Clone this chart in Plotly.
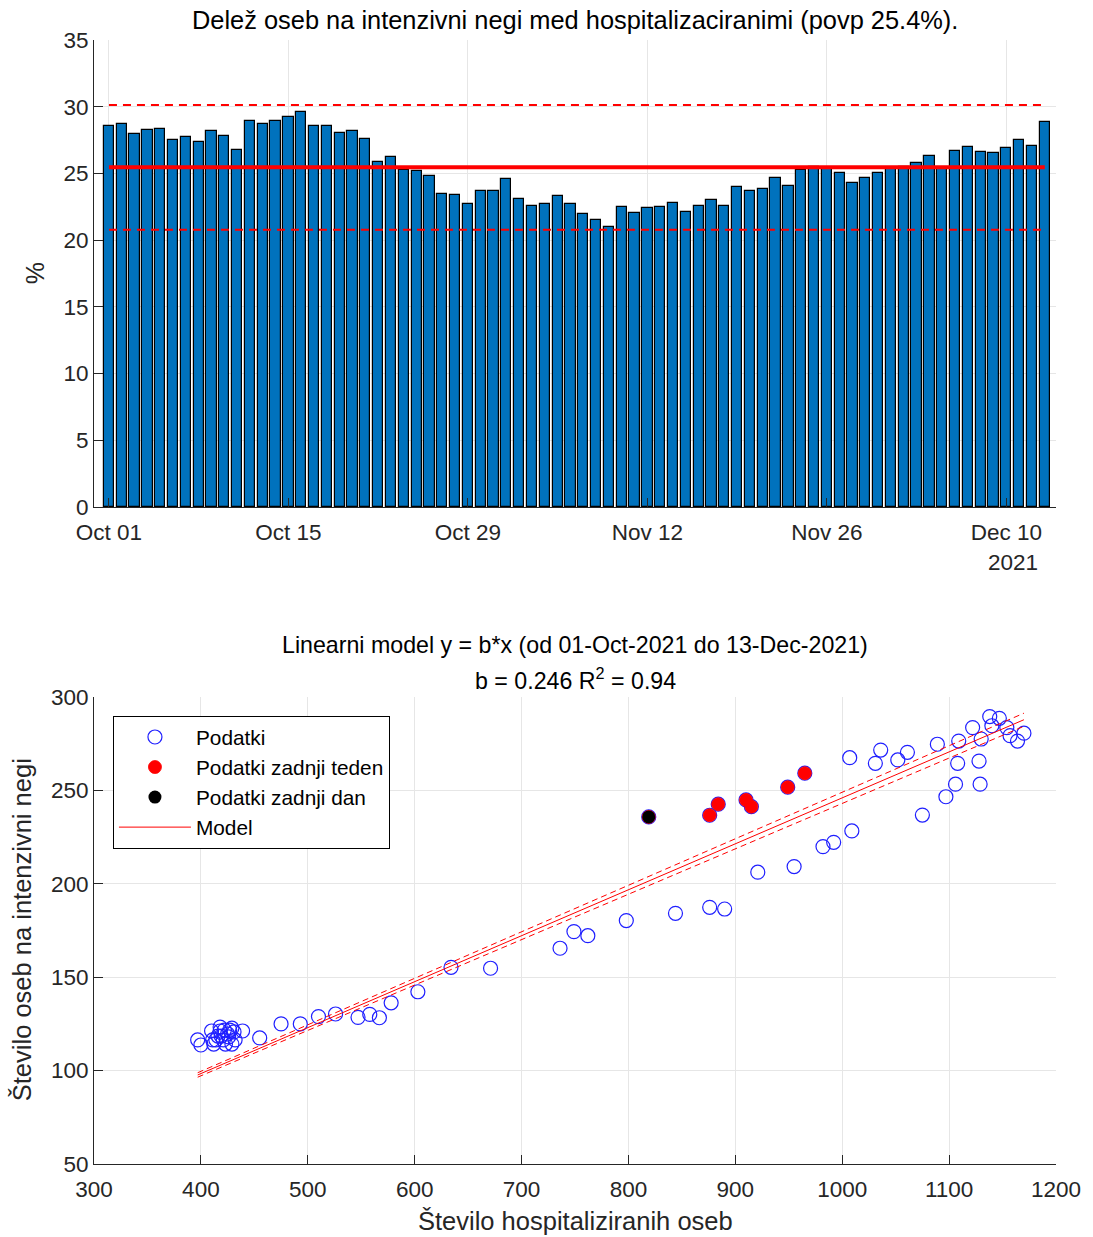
import plotly.graph_objects as go
import numpy as np
import pandas as pd

# ---------------- data ----------------
start_date = "2021-10-01"
end_date = "2021-12-13"

pct_icu = [28.58, 28.68, 27.93, 28.23, 28.33, 27.48, 27.73, 27.33, 28.16, 27.83,
           26.73, 28.90, 28.68, 28.90, 29.25, 29.58, 28.58, 28.58, 28.00, 28.16,
           27.58, 25.83, 26.25, 25.26, 25.18, 24.83, 23.48, 23.41, 22.68, 23.66,
           23.66, 24.58, 23.08, 22.58, 22.68, 23.33, 22.68, 21.93, 21.51, 21.01,
           22.51, 22.01, 22.43, 22.51, 22.76, 22.08, 22.58, 23.01, 22.58, 24.00,
           23.68, 23.83, 24.68, 24.08, 25.26, 25.50, 25.40, 25.01, 24.26, 24.68,
           25.01, 25.40, 25.50, 25.76, 26.33, 25.40, 26.66, 27.00, 26.58, 26.50,
           26.93, 27.50, 27.08, 28.83]

tick_dates = ["2021-10-01", "2021-10-15", "2021-10-29", "2021-11-12", "2021-11-26", "2021-12-10"]

hosp_prev = [397, 400, 410, 412, 414, 418, 419, 422, 425, 427, 429, 431, 439, 455,
             416, 421, 423, 418, 426, 432, 411, 429,
             475, 493, 510, 526, 547, 558, 567, 578, 603, 634, 671,
             736, 749, 762, 798, 844, 876, 890, 921, 955,
             982, 992, 1009, 1007, 1031, 1036, 1052, 1061, 1075, 1089, 1097, 1106,
             1108, 1109, 1122, 1130, 1128, 1129, 1138, 1147, 1140, 1154, 1157, 1164, 1170]
icu_prev = [116.4, 113.7, 121.2, 114.2, 116.4, 121.2, 118.5, 121.7, 119.6, 121.7, 114.2, 120.7, 121.2, 117.5,
            118.5, 116.4, 114.2, 123.3, 118.0, 116.4, 116.4, 122.7,
            125, 125, 128.9, 130.3, 128.5, 130.1, 128.3, 136.3, 142.2, 155.3, 154.8,
            165.5, 174.4, 172.2, 180.3, 184.2, 187.4, 186.5, 206.2, 209.2,
            219.9, 222.2, 228.3, 267.5, 264.5, 271.6, 266.3, 270.4, 236.8, 274.7, 246.6, 253.3,
            264.5, 276.4, 283.6, 277.5, 265.7, 253.3, 289.5, 288.6, 284.6, 283.6, 279.3, 276.4, 280.6]

hosp_week = [876, 884, 910, 915, 949, 965]
icu_week = [236.7, 242.6, 244.9, 241.3, 251.7, 259.2]

hosp_day = [819]
icu_day = [235.8]

b_fit = 0.246
b_low = 0.243
b_high = 0.249
r2 = 0.94

# ---------------- figure ----------------
dates = pd.date_range(start_date, end_date, freq="D")
pct = np.array(pct_icu)
mean_p = pct.mean()
std_p = pct.std(ddof=1)

AX = "#262626"
GRID = "#e6e6e6"
FONT = "Liberation Sans, Arial, sans-serif"

fig = go.Figure()

fig.add_trace(go.Bar(
    x=dates, y=pct, width=0.8 * 86400000,
    marker=dict(color="#0072BD", line=dict(color="black", width=1.2)),
    showlegend=False, xaxis="x", yaxis="y"))

for val, dash, w in [(mean_p, "solid", 4), (mean_p + 2 * std_p, "8px,6px", 2), (mean_p - 2 * std_p, "8px,6px", 2)]:
    fig.add_trace(go.Scatter(
        x=[dates[0], dates[-1]], y=[val, val], mode="lines",
        line=dict(color="#ff0000", width=w, dash=dash),
        showlegend=False, xaxis="x", yaxis="y"))

hosp_all = hosp_prev + hosp_week + hosp_day
icu_all = icu_prev + icu_week + icu_day
hosp_last = hosp_week + hosp_day
icu_last = icu_week + icu_day

fig.add_trace(go.Scatter(
    x=hosp_all, y=icu_all, mode="markers", name="Podatki",
    marker=dict(symbol="circle-open", size=14, color="#1f1fff", line=dict(width=1.2, color="#1f1fff")),
    xaxis="x2", yaxis="y2", legendgroup="a"))

xm = np.array([min(hosp_all), max(hosp_all)])
for bb in (b_low, b_high):
    fig.add_trace(go.Scatter(
        x=xm, y=bb * xm, mode="lines", line=dict(color="#ff0000", width=1, dash="6px,4px"),
        showlegend=False, xaxis="x2", yaxis="y2"))

fig.add_trace(go.Scatter(
    x=hosp_last, y=icu_last, mode="markers", name="Podatki zadnji teden",
    marker=dict(symbol="circle", size=13, color="#ff0000", line=dict(width=0.8, color="#ff0000")),
    xaxis="x2", yaxis="y2", legendgroup="b"))

fig.add_trace(go.Scatter(
    x=hosp_day, y=icu_day, mode="markers", name="Podatki zadnji dan",
    marker=dict(symbol="circle", size=13, color="#000000"),
    xaxis="x2", yaxis="y2", legendgroup="c"))

fig.add_trace(go.Scatter(
    x=xm, y=b_fit * xm, mode="lines", name="Model",
    line=dict(color="#ff0000", width=1),
    xaxis="x2", yaxis="y2", legendgroup="d"))

axis_common = dict(showline=True, linecolor=AX, linewidth=1, ticks="inside", ticklen=9,
                   tickcolor=AX, tickwidth=1, showgrid=True, gridcolor=GRID, gridwidth=1,
                   zeroline=False, mirror=False,
                   tickfont=dict(family=FONT, size=22.5, color=AX))

top_dom = [0.5845, 1.0]
bot_dom = [0.0, 0.4155]

fig.update_layout(
    width=1093, height=1237, autosize=False,
    margin=dict(l=94, r=34, t=40, b=73),
    paper_bgcolor="white", plot_bgcolor="white",
    font=dict(family=FONT, color=AX),
    bargap=0,
    xaxis=dict(type="date", domain=[0, 1], anchor="y",
               range=["2021-09-29 20:00", "2021-12-13 21:00"],
               tickvals=tick_dates, tickformat="%b %d", ticklabelstandoff=5, **axis_common),
    yaxis=dict(domain=top_dom, anchor="x", range=[0, 35], dtick=5, tick0=0, **axis_common),
    xaxis2=dict(domain=[0, 1], anchor="y2", range=[300, 1200], dtick=100, tick0=300,
                ticklabelstandoff=5, **axis_common),
    yaxis2=dict(domain=bot_dom, anchor="x2", range=[50, 300], dtick=50, tick0=50, **axis_common),
    legend=dict(x=0.0197, y=0.3986, xanchor="left", yanchor="top",
                bgcolor="white", bordercolor="black", borderwidth=1,
                font=dict(family=FONT, size=20.8, color="black"),
                itemwidth=72, traceorder="grouped", tracegroupgap=0),
)

def pnt(py):
    return (1164 - py) / 1124.0

def pxx(px):
    return (px - 94) / 965.0

ann = [
    dict(text="Delež oseb na intenzivni negi med hospitalizaciranimi (povp 25.4%).",
         x=0.5, y=pnt(20), size=25.4, angle=0, color="black"),
    dict(text="2021", x=pxx(1016), y=pnt(562), size=22.5, angle=0, color=AX),
    dict(text="%", x=pxx(35), y=pnt(273), size=25, angle=-90, color=AX),
    dict(text="Linearni model y = b*x (od 01-Oct-2021 do 13-Dec-2021)",
         x=0.5, y=pnt(645), size=23.2, angle=0, color="black"),
    dict(text="b = %.3f R<sup>2</sup> = %.2f" % (b_fit, r2),
         x=0.5, y=pnt(679), size=23.2, angle=0, color="black"),
    dict(text="Število hospitaliziranih oseb", x=0.5, y=pnt(1221), size=25.5, angle=0, color=AX),
    dict(text="Število oseb na intenzivni negi", x=pxx(22), y=pnt(930), size=25.5, angle=-90, color=AX),
]
for a in ann:
    fig.add_annotation(text=a["text"], x=a["x"], y=a["y"], xref="paper", yref="paper",
                       xanchor="center", yanchor="middle", showarrow=False, textangle=a["angle"],
                       font=dict(family=FONT, size=a["size"], color=a["color"]))

fig.write_html("out.html", config={"displayModeBar": False},
               post_script="document.body.style.margin='0px';")
